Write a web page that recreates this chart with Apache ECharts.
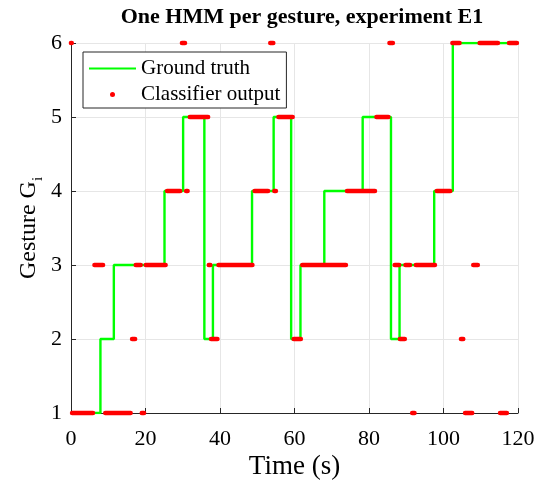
<!DOCTYPE html>
<html>
<head>
<meta charset="utf-8">
<script src="https://cdn.jsdelivr.net/npm/echarts@6/dist/echarts.min.js"></script>
<style>html,body{margin:0;padding:0;background:#fff}#c{width:538px;height:485px}</style>
</head>
<body>
<div id="c"></div>
<script>
// Ground truth (step changes): time (s) at which gesture becomes value
var gtTime    = [0, 7.9, 11.5, 25.1, 30.1, 35.8, 38.1, 48.6, 54.4, 59.1, 61.6, 68.0, 78.3, 85.9, 88.2, 97.5, 102.5, 120];
var gtGesture = [1, 2,   3,    4,    5,    2,    3,    4,    5,    2,    3,    4,    5,    2,    3,    4,    6,     6];

// Classifier output runs: start time, end time, gesture
var outStart   = [0,   0.3, 6.3, 9.2,  16.4, 17.4, 19.0, 20.1, 25.8, 29.8, 30.9, 31.9, 37.0, 37.6, 39.6, 49.3, 53.5, 54.6, 55.7, 59.8, 62.1, 74.1, 82.0, 85.5, 86.9, 88.3, 89.8, 91.6, 92.6, 98.2,  102.4, 104.7, 105.8, 108.0, 109.7, 115.2, 117.6];
var outEnd     = [0.2, 5.9, 8.6, 16.0, 17.2, 18.7, 19.6, 25.4, 29.3, 30.6, 31.3, 36.8, 37.4, 39.3, 48.7, 52.9, 54.3, 55.0, 59.5, 61.7, 73.8, 81.6, 85.2, 86.4, 88.1, 89.6, 91.0, 92.2, 97.7, 101.8, 104.3, 105.3, 107.7, 109.2, 114.6, 117.0, 119.7];
var outGesture = [6,   1,   3,   1,    2,    3,    1,    3,    4,    6,    4,    5,    3,    2,    3,    4,    6,    4,    5,    2,    3,    4,    5,    6,    3,    2,    3,    1,    3,    4,     6,     2,     1,     3,     6,     1,     6];

var xTicks = [0, 20, 40, 60, 80, 100, 120];
var yTicks = [1, 2, 3, 4, 5, 6];

var serif = '"Liberation Serif", "Times New Roman", serif';
var axisColor = '#262626';

var gtData = gtTime.map(function (t, i) { return [t, gtGesture[i]]; });
var outData = outStart.map(function (s, i) { return [s, outEnd[i], outGesture[i]]; });

var chart = echarts.init(document.getElementById('c'), null, {renderer: 'canvas'});
chart.setOption({
  animation: false,
  backgroundColor: '#ffffff',
  title: {
    text: 'One HMM per gesture, experiment E1',
    left: 297, textAlign: 'center', top: 1,
    textStyle: {fontFamily: serif, fontWeight: 'bold', fontSize: 22, color: '#000'}
  },
  legend: {
    orient: 'vertical',
    left: 83, top: 52,
    itemWidth: 47, itemHeight: 5, itemGap: 5,
    padding: [6, 6, 3, 5],
    borderColor: axisColor, borderWidth: 1,
    backgroundColor: '#fff',
    textStyle: {fontFamily: serif, fontSize: 21, color: '#000', lineHeight: 20},
    data: [
      {name: 'Ground truth'},
      {name: 'Classifier output', icon: 'circle'}
    ]
  },
  grid: {left: 71, right: 20, top: 43, bottom: 72, containLabel: false, outerBoundsMode: 'none'},
  xAxis: {
    type: 'value', min: 0, max: 120, interval: 20,
    name: 'Time (s)', nameLocation: 'middle', nameGap: 40, nameMoveOverlap: false,
    nameTextStyle: {fontFamily: serif, fontSize: 27, color: '#000'},
    axisLine: {show: true, lineStyle: {color: axisColor, width: 1}},
    axisTick: {show: true, inside: true, length: 5, lineStyle: {color: axisColor}},
    axisLabel: {fontFamily: serif, fontSize: 22, color: '#000', margin: 15,
      formatter: function (v) { return xTicks.indexOf(v) >= 0 ? String(v) : ''; }},
    splitLine: {show: true, lineStyle: {color: '#e6e6e6', width: 1}}
  },
  yAxis: {
    type: 'value', min: 1, max: 6, interval: 1,
    name: '{a|Gesture G}{b|i}', nameLocation: 'middle', nameRotate: 90, nameGap: 25, nameMoveOverlap: false,
    nameTextStyle: {
      fontFamily: serif, color: '#000',
      rich: {
        a: {fontFamily: serif, fontSize: 24, color: '#000', lineHeight: 24, verticalAlign: 'top'},
        b: {fontFamily: serif, fontSize: 15, color: '#000', lineHeight: 29, verticalAlign: 'bottom'}
      }
    },
    axisLine: {show: true, lineStyle: {color: axisColor, width: 1}},
    axisTick: {show: true, inside: true, length: 5, lineStyle: {color: axisColor}},
    axisLabel: {fontFamily: serif, fontSize: 22, color: '#000', margin: 9,
      formatter: function (v) { return yTicks.indexOf(v) >= 0 ? String(v) : ''; }},
    splitLine: {show: true, lineStyle: {color: '#e6e6e6', width: 1}}
  },
  series: [
    {
      name: 'Ground truth',
      type: 'line',
      step: 'end',
      symbol: 'none',
      data: gtData,
      itemStyle: {color: '#00ff00', opacity: 0},
      lineStyle: {color: '#00ff00', width: 2.4},
      z: 2
    },
    {
      name: 'Classifier output',
      type: 'custom',
      data: outData,
      itemStyle: {color: '#ff0000'},
      encode: {x: [0, 1], y: 2},
      z: 3,
      renderItem: function (params, api) {
        var p0 = api.coord([api.value(0), api.value(2)]);
        var p1 = api.coord([api.value(1), api.value(2)]);
        return {
          type: 'line',
          shape: {x1: p0[0], y1: p0[1], x2: p1[0], y2: p1[1]},
          style: {stroke: '#ff0000', lineWidth: 4.6, lineCap: 'round', fill: null}
        };
      }
    }
  ]
});
</script>
</body>
</html>
